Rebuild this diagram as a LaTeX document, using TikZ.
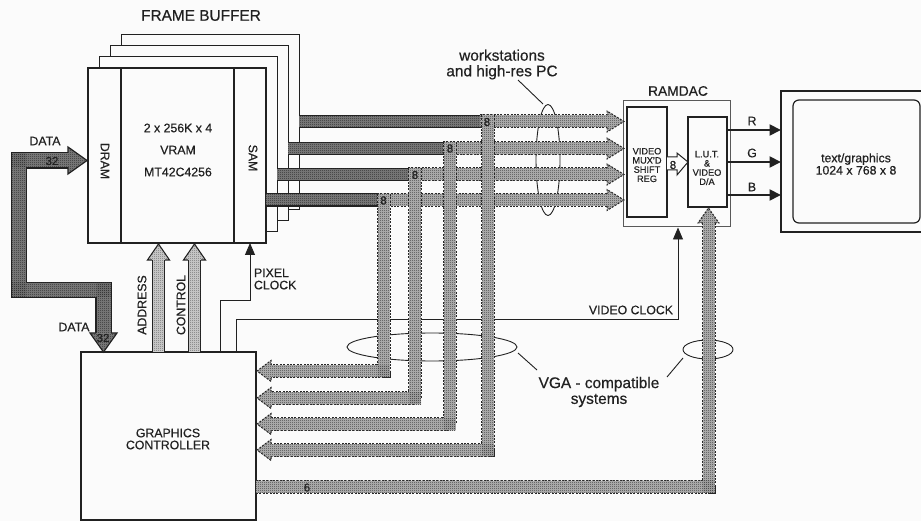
\documentclass[tikz,border=0pt]{standalone}
\usepackage{fontspec}
\setmainfont[FakeBold=0.5]{Liberation Sans}
\usetikzlibrary{arrows.meta,calc,shapes.geometric,patterns}
\definecolor{paper}{gray}{0.985}
\definecolor{ink}{gray}{0.13}
\definecolor{busdark}{gray}{0.5}
\definecolor{busdarkp}{gray}{0.18}
\definecolor{buslite}{gray}{0.72}
\definecolor{buslitep}{gray}{0.25}
\definecolor{arrlite}{gray}{0.82}
\definecolor{arrlitep}{gray}{0.42}
\newcommand{\fs}[1]{\fontsize{#1}{#1}\selectfont}
\pgfdeclarepatternformonly{chk}{\pgfqpoint{0pt}{0pt}}{\pgfqpoint{2pt}{2pt}}{\pgfqpoint{2pt}{2pt}}{%
  \pgfpathrectangle{\pgfqpoint{0pt}{0pt}}{\pgfqpoint{1pt}{1pt}}%
  \pgfpathrectangle{\pgfqpoint{1pt}{1pt}}{\pgfqpoint{1pt}{1pt}}%
  \pgfusepath{fill}}
\tikzset{
  x=1pt,y=-1pt,
  box/.style={draw=ink,line width=1.5pt,fill=none,inner sep=0pt,outer sep=0pt},
  thinbox/.style={draw=ink,line width=1pt,fill=paper,inner sep=0pt,outer sep=0pt},
  txt/.style={text=ink,inner sep=0pt,outer sep=0pt,align=center},
  big/.style={txt,font=\fs{15.4}},
  mid/.style={txt,font=\fs{12.3}},
  small/.style={txt,font=\fs{9.2}},
  num/.style={txt,font=\fs{11.5}},
  thinline/.style={draw=ink,line width=0.9pt},
  solidtip/.style={-{Triangle[length=12pt,width=10pt]}},
  sig/.style={draw=ink,line width=2pt,-{Triangle[length=11.5pt,width=11pt]}},
  ring/.style={draw=ink,line width=0.9pt},
  edgedash/.style={draw=black!85,line width=14pt,dash pattern=on 2pt off 1.4pt,line join=miter},
  fillmid/.style={draw=buslite,line width=12pt,line join=miter},
  edgesolid/.style={draw=ink,line width=13.8pt,line join=miter},
  filldark/.style={draw=busdark,line width=11pt,line join=miter},
  headedge/.style={draw=black!85,line width=1pt,dash pattern=on 2pt off 1.4pt},
  chklite/.style={pattern=chk,pattern color=buslitep},
  chkdark/.style={pattern=chk,pattern color=busdarkp},
  chkarr/.style={pattern=chk,pattern color=arrlitep},
}
\newcommand{\dbus}[1]{\draw[edgedash] #1; \draw[fillmid] #1;}
\newcommand{\sbus}[1]{\draw[edgesolid] #1; \draw[filldark] #1;}
% arrowhead: tip coordinate, rotation, head length, half shaft width
\newcommand{\bhead}[4]{%
  \fill[buslite,shift={(#1)},rotate=#2] (-#3,#4) -- (-#3,10.5) -- (0,0) -- (-#3,-10.5) -- (-#3,-#4) -- cycle;
  \fill[chklite,shift={(#1)},rotate=#2] (-#3,#4) -- (-#3,10.5) -- (0,0) -- (-#3,-10.5) -- (-#3,-#4) -- cycle;
  \draw[headedge,shift={(#1)},rotate=#2] (-#3,#4) -- (-#3,10.5) -- (0,0) -- (-#3,-10.5) -- (-#3,-#4);
}
\begin{document}
\begin{tikzpicture}
\useasboundingbox (0,0) rectangle (921,521);
\fill[paper] (0,0) rectangle (921,521);

% frame buffer stack
\node[thinbox,minimum width=178pt,minimum height=175pt] (l3) at (210,122.5) {};
\node[thinbox,minimum width=178pt,minimum height=175pt] (l2) at (199,133.5) {};
\node[thinbox,minimum width=178pt,minimum height=175pt] (l1) at (188,144.5) {};
\node[thinbox,line width=1.5pt,minimum width=178pt,minimum height=175pt] (vram) at (177,155.5) {};
\draw[box,line width=1.2pt] (121,0 |- vram.north) -- (121,0 |- vram.south);
\draw[box,line width=1.2pt] (234,0 |- vram.north) -- (234,0 |- vram.south);

\node[big] (fbt) at (201,15.5) {FRAME BUFFER};
\node[mid,rotate=-90] (dramt) at (105,161) {DRAM};
\node[mid,rotate=-90] (samt) at (253,158) {SAM};
\node[mid] (v1) at (178,128) {2 x 256K x 4};
\node[mid] (v2) at (178,150) {VRAM};
\node[mid] (v3) at (178,172) {MT42C4256};

% other boxes
\node[box,minimum width=175pt,minimum height=168pt] (gc) at (168.5,436) {};
\node[mid,align=center] (gct) at (168,439) {GRAPHICS\\[-0.3pt]CONTROLLER};
\node[draw=black!65,line width=1pt,inner sep=0pt,minimum width=107pt,minimum height=126pt] (dac) at (676.5,164) {};
\node[box,minimum width=40pt,minimum height=110pt] (mux) at (647,162) {};
\node[box,minimum width=39pt,minimum height=90pt] (lut) at (707.5,162) {};
\node[small,align=center] (muxt) at (647,165) {VIDEO\\MUX'D\\SHIFT\\REG};
\node[small,align=center] (lutt) at (707,168) {L.U.T.\\\&\\VIDEO\\D/A};
\node[big,font=\fs{13.8}] (dact) at (678,91) {RAMDAC};

% monitor (its right side runs off the picture)
\node[inner sep=0pt,outer sep=0pt,minimum width=140pt,minimum height=141pt] (mon) at (851,161.5) {};
\draw[draw=ink,line width=1.2pt] (mon.north east) -- (mon.north west) -- (mon.south west) -- (mon.south east);
\node[draw=ink,line width=1.2pt,rounded corners=6pt,inner sep=0pt,minimum width=127pt,minimum height=123pt] (scr) at (856.5,161.5) {};
\node[mid,align=center] (scrt) at (856,164) {text/graphics\\1024 x 768 x 8};

% ellipses behind the buses
\node[ring,ellipse,draw,minimum width=24pt,minimum height=111pt,inner sep=0pt] (ews) at (548,160) {};
\node[ring,ellipse,draw,minimum width=170pt,minimum height=28pt,inner sep=0pt] (evga) at (432,347) {};
\node[ring,ellipse,draw,minimum width=50pt,minimum height=19pt,inner sep=0pt] (evid) at (708,349.5) {};
\coordinate (wsa) at (518,80); \coordinate (wsb) at (543,104);
\coordinate (vga) at (518,353); \coordinate (vgb) at (537,370);
\coordinate (vda) at (683,358); \coordinate (vdb) at (667,377);
\draw[thinline] (wsa) -- (wsb);
\draw[thinline] (vga) -- (vgb);
\draw[thinline] (vda) -- (vdb);
\node[big,align=center] (wst) at (502,64.5) {workstations\\[0.2pt]and high-res PC};
\node[big,align=center] (vgat) at (599,392) {VGA - compatible\\[0.4pt]systems};

% clocks
\draw[thinline,solidtip] (220,0 |- gc.north) |- (250,300) -- (250,0 |- vram.south);
\draw[thinline,solidtip] (236,0 |- gc.north) |- (678,319) -- (678,0 |- dac.south);
\node[mid,align=left,anchor=west] (pct) at (254,279) {PIXEL\\CLOCK};
\node[mid,anchor=east] (vct) at (673,310) {VIDEO CLOCK};

% horizontal dashed buses
\coordinate (h1) at (480,121.5);
\coordinate (h2) at (443,148.5);
\coordinate (h3) at (408,174.5);
\coordinate (h4) at (377,200);
\coordinate (t1) at (624,121.5);
\coordinate (t2) at (624,148.5);
\coordinate (t3) at (624,174.5);
\coordinate (t4) at (624,200);
\coordinate (tb1) at ($(t1)+(-17,0)$);
\coordinate (tb2) at ($(t2)+(-17,0)$);
\coordinate (tb3) at ($(t3)+(-17,0)$);
\coordinate (tb4) at ($(t4)+(-17,0)$);
\dbus{(h1) -- (tb1)}
\dbus{(h2) -- (tb2)}
\dbus{(h3) -- (tb3)}
\dbus{(h4) -- (tb4)}
\fill[chklite] (480,115.5) rectangle (607,127.5);
\fill[chklite] (443,142.5) rectangle (607,154.5);
\fill[chklite] (408,168.5) rectangle (607,180.5);
\fill[chklite] (377,194) rectangle (607,206);
\bhead{t1}{0}{17}{6}
\bhead{t2}{0}{17}{6}
\bhead{t3}{0}{17}{6}
\bhead{t4}{0}{17}{6}

% solid parts from the frame buffer
\sbus{(l3.east |- h1) -- (h1)}
\sbus{(l2.east |- h2) -- (h2)}
\sbus{(l1.east |- h3) -- (h3)}
\sbus{(vram.east |- h4) -- (h4)}
\fill[chkdark] (299,116) rectangle (480,127);
\fill[chkdark] (288,143) rectangle (443,154);
\fill[chkdark] (277,169) rectangle (408,180);
\fill[chkdark] (266,194.5) rectangle (377,205.5);

% returning buses to the graphics controller
\coordinate (g1) at (257,371);
\coordinate (g2) at (257,398);
\coordinate (g3) at (257,424);
\coordinate (g4) at (257,450);
\coordinate (gb1) at (271,371);
\coordinate (gb2) at (271,398);
\coordinate (gb3) at (271,424);
\coordinate (gb4) at (271,450);
\dbus{(383.5,194) -- (383.5,371) -- (gb1)}
\dbus{(415,168) -- (415,398) -- (gb2)}
\dbus{(449.5,142) -- (449.5,424) -- (gb3)}
\dbus{(488,115) -- (488,450) -- (gb4)}
\fill[chklite] (377.5,194) rectangle (389.5,377);
\fill[chklite] (271,365) rectangle (389.5,377);
\fill[chklite] (409,168) rectangle (421,404);
\fill[chklite] (271,392) rectangle (421,404);
\fill[chklite] (443.5,142) rectangle (455.5,430);
\fill[chklite] (271,418) rectangle (455.5,430);
\fill[chklite] (482,115) rectangle (494,456);
\fill[chklite] (271,444) rectangle (494,456);
\bhead{g1}{180}{14}{6}
\bhead{g2}{180}{14}{6}
\bhead{g3}{180}{14}{6}
\bhead{g4}{180}{14}{6}

% bus from controller to D/A
\coordinate (d6) at (708.5,208);
\coordinate (d6b) at (708.5,223);
\dbus{(gc.east |- 0,486.5) -| (d6b)}
\fill[chklite] (256,480.5) rectangle (714.5,492.5);
\fill[chklite] (702.5,223) rectangle (714.5,492.5);
\bhead{d6}{90}{15}{6}

\node[num] (n1) at (487,122) {8};
\node[num] (n2) at (450,148.5) {8};
\node[num] (n3) at (415,175) {8};
\node[num] (n4) at (383.5,200.5) {8};
\node[num] (n6) at (307,487.5) {6};

% DATA bus
\coordinate (dt1) at (87,160.5);
\coordinate (dt1b) at (68,160.5);
\coordinate (dt2) at (103.5,352);
\coordinate (dt2b) at (103.5,333);
\draw[draw=ink,line width=16.6pt,line join=miter] (dt1b) -| (19,290) -| (dt2b);
\draw[draw=busdark,line width=14pt,line join=miter] (dt1b) -| (19,290) -| (dt2b);
\filldraw[fill=busdark,draw=ink,line width=1.2pt,miter limit=3] (68,168) -- (68,147) -- (dt1) -- (68,174) -- (68,168);
\filldraw[fill=busdark,draw=ink,line width=1.2pt] (96,333) -- (90,333) -- (dt2) -- (117,333) -- (111,333);
\fill[busdark] (66,153.5) rectangle (69,167.5);
\fill[busdark] (97,331) rectangle (110,334);
\fill[chkdark] (68.6,153.5) -- (68.6,148.2) -- (85,160.5) -- (68.6,172.8) -- (68.6,167.5) -- (12,167.5) -- (12,153.5) -- cycle;
\fill[chkdark] (12,153.5) rectangle (26,297);
\fill[chkdark] (12,283) rectangle (110.5,297);
\fill[chkdark] (96.5,283) rectangle (110.5,333);
\fill[chkdark] (91.5,333.6) -- (115.5,333.6) -- (103.5,350) -- cycle;
\node[num] (d32a) at (52,161) {32};
\node[num] (d32b) at (103,338) {32};
\node[mid] (dl1) at (45,141) {DATA};
\node[mid] (dl2) at (74,327) {DATA};

% ADDRESS and CONTROL
\draw[draw=ink,line width=13.6pt] (158.5,0 |- gc.north) -- (158.5,260);
\draw[draw=arrlite,line width=11pt] (158.5,0 |- gc.north) -- (158.5,258);
\draw[draw=ink,line width=13.6pt] (194.5,0 |- gc.north) -- (194.5,260);
\draw[draw=arrlite,line width=11pt] (194.5,0 |- gc.north) -- (194.5,258);
\filldraw[fill=arrlite,draw=ink,line width=1.1pt] (152,260) -- (147.5,260) -- (158.5,244) -- (169.5,260) -- (165,260);
\filldraw[fill=arrlite,draw=ink,line width=1.1pt] (188,260) -- (183.5,260) -- (194.5,244) -- (205.5,260) -- (201,260);
\fill[arrlite] (153,258) rectangle (164,262);
\fill[arrlite] (189,258) rectangle (200,262);
\fill[chkarr] (153,351) -- (153,259.4) -- (148.8,259.4) -- (158.5,245.5) -- (168.2,259.4) -- (164,259.4) -- (164,351) -- cycle;
\fill[chkarr] (189,351) -- (189,259.4) -- (184.8,259.4) -- (194.5,245.5) -- (204.2,259.4) -- (200,259.4) -- (200,351) -- cycle;
\node[mid,rotate=90] (adt) at (142,305) {ADDRESS};
\node[mid,rotate=90] (cot) at (181,305) {CONTROL};

% hollow 8 arrow
\filldraw[fill=paper,draw=ink,line width=1pt] (mux.east |- 0,157) -- (677,157) -- (677,153) -- (lut.west) -- (677,175) -- (677,170) -- (mux.east |- 0,170);
\node[num] (n8) at (673,165) {8};

% RGB
\draw[sig] (lut.east |- 0,130) -- (mon.west |- 0,130);
\draw[sig] (lut.east |- 0,162) -- (mon.west |- 0,162);
\draw[sig] (lut.east |- 0,195) -- (mon.west |- 0,195);
\node[mid] (rt) at (752,121) {R};
\node[mid] (gt) at (752,153) {G};
\node[mid] (bt) at (752,187) {B};
\end{tikzpicture}
\end{document}
